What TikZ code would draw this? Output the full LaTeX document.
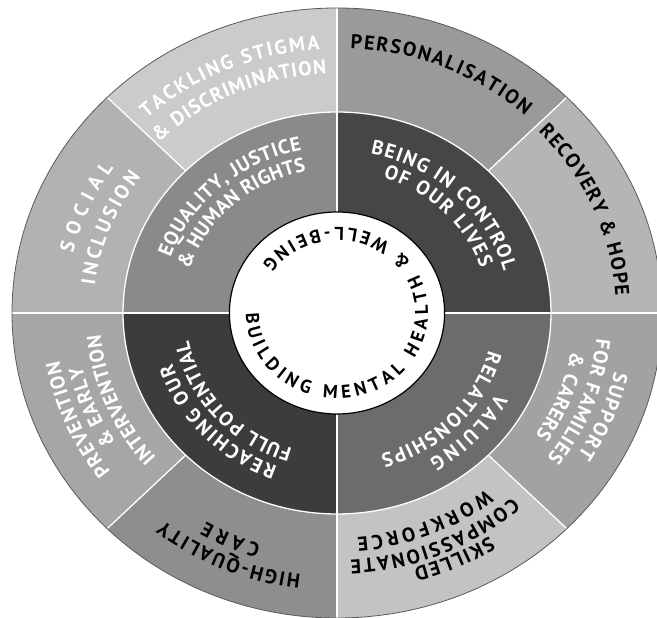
\documentclass[tikz,border=0pt]{standalone}
\usepackage{fontspec}
\setmainfont{PT Sans}
\usepackage{xcolor}
\usetikzlibrary{decorations.text}
\definecolor{recov}{HTML}{B5B5B5}
\definecolor{perso}{HTML}{9A9A9A}
\definecolor{stigma}{HTML}{CBCBCB}
\definecolor{social}{HTML}{B2B2B2}
\definecolor{prev}{HTML}{A6A6A6}
\definecolor{hqc}{HTML}{8E8E8E}
\definecolor{skill}{HTML}{C3C3C3}
\definecolor{supp}{HTML}{A2A2A2}
\definecolor{control}{HTML}{464646}
\definecolor{equal}{HTML}{8A8A8A}
\definecolor{reach}{HTML}{3C3C3C}
\definecolor{valu}{HTML}{6C6C6C}
\newcommand{\kx}{1.065}
\newcommand{\otw}{\fontsize{20}{20}\selectfont\bfseries\color{white}}
\newcommand{\otb}{\fontsize{20}{20}\selectfont\bfseries\color{black}}
\newcommand{\mtw}{\fontsize{20}{20}\selectfont\bfseries\color{white}}
\newcommand{\ctb}{\fontsize{18.5}{18.5}\selectfont\bfseries\color{black}}
% text on an arc: style, radius, start angle, end angle, text
\newcommand{\ringtext}[5]{%
  \path[decorate, decoration={text along path, text align=fit to path, text={|#1|#5}}]
    (#3:{\kx*#2} and #2) arc[start angle=#3, end angle=#4, x radius={\kx*#2}, y radius=#2];}

\begin{document}
\begin{tikzpicture}[x=1pt, y=1pt, sep/.style={white, line width=1.3pt}]
\useasboundingbox (0,0) rectangle (657,618);
\clip (0,0) rectangle (657,618);
\coordinate (hub) at (337,305);
\begin{scope}[shift={(hub)}]
% outer ring
\foreach \a/\c in {0/recov, 45/perso, 90/stigma, 135/social, 180/prev, 225/hqc, 270/skill, 315/supp}
  \fill[\c] (0,0) -- (\a:325 and 305) arc[start angle=\a, delta angle=45, x radius=325, y radius=305] -- cycle;
% middle ring
\foreach \a/\c in {0/control, 90/equal, 180/reach, 270/valu}
  \fill[\c] (0,0) -- (\a:214 and 201) arc[start angle=\a, delta angle=90, x radius=214, y radius=201] -- cycle;
\draw[sep] (0,0) ellipse[x radius=214, y radius=201];
\foreach \a in {0,45,...,315} \draw[sep] (\a:214 and 201) -- (\a:325 and 305);
\foreach \a in {0,90,180,270} \draw[sep] (0,0) -- (\a:214 and 201);
\draw[gray!70!black, line width=0.8pt] (0,0) ellipse[x radius=325, y radius=305];
\filldraw[fill=white, draw=black, line width=1.2pt] (0,0) ellipse[x radius=107.6, y radius=101];
% outer labels
\ringtext{\otw}{264}{132.6}{93.5}{TACKLING STIGMA}
\ringtext{\otw}{239}{134.4}{92.4}{{\&} DISCRIMINATION}
\ringtext{\otb}{265}{87.3}{48.2}{PERSONALISATION}
\ringtext{\otb}{262}{43.8}{3.7}{RECOVERY {\&} HOPE}
\ringtext{\otw}{267}{-12.6}{-32.2}{SUPPORT}
\ringtext{\otw}{245}{-5.9}{-36.4}{FOR FAMILIES}
\ringtext{\otw}{223}{-9.9}{-33.3}{{\&} CARERS}
\ringtext{\otb}{265}{-57.3}{-74.3}{SKILLED}
\ringtext{\otb}{247}{-48.2}{-87.1}{COMPASSIONATE}
\ringtext{\otb}{225}{-51.5}{-85.2}{WORKFORCE}
\ringtext{\otb}{264}{262.6}{231.9}{HIGH-QUALITY}
\ringtext{\otb}{242}{252.8}{239.4}{CARE}
\ringtext{\otw}{265}{216.7}{190.3}{PREVENTION}
\ringtext{\otw}{245}{212}{192.5}{{\&} EARLY}
\ringtext{\otw}{223}{220.5}{185.5}{INTERVENTION}
\ringtext{\otw}{255}{166.4}{145.3}{SOCIAL}
\ringtext{\otw}{229}{173}{143.5}{INCLUSION}
% middle labels
\ringtext{\mtw}{162}{78.8}{14.9}{BEING IN CONTROL}
\ringtext{\mtw}{142}{72.3}{18.2}{OF OUR LIVES}
\ringtext{\mtw}{166}{160.5}{101.5}{EQUALITY, JUSTICE}
\ringtext{\mtw}{145}{162.7}{101.5}{{\&} HUMAN RIGHTS}
\ringtext{\mtw}{163}{249.9}{198.1}{REACHING OUR}
\ringtext{\mtw}{142}{252.8}{191.2}{FULL POTENTIAL}
\ringtext{\mtw}{170}{-28.4}{-59.4}{VALUING}
\ringtext{\mtw}{147}{-14.7}{-73.9}{RELATIONSHIPS}
% hub
\ringtext{\ctb}{85.5}{180}{505}{BUILDING MENTAL HEALTH {\&} WELL-BEING}
\end{scope}
\end{tikzpicture}
\end{document}
